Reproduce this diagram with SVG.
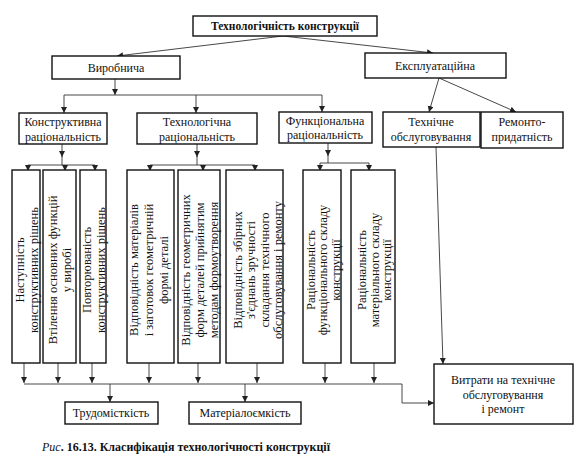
<svg xmlns="http://www.w3.org/2000/svg" width="576" height="470" viewBox="0 0 576 470">
<defs>
<marker id="arr" markerUnits="userSpaceOnUse" markerWidth="7" markerHeight="7" refX="6" refY="3" orient="auto">
<path d="M0,0 L6,3 L0,6 z" fill="#222"/>
</marker>
<style>
.box{fill:#fff;stroke:#111;stroke-width:1.4}
.ln{fill:none;stroke:#333;stroke-width:0.9}
.a{marker-end:url(#arr)}
text{font-family:"Liberation Serif","Times New Roman",serif;fill:#111;font-size:12px;text-anchor:middle}
.v{font-size:12.5px}
.t{font-weight:bold;font-size:11.5px}
.cap{text-anchor:start;font-size:12px;font-weight:bold}
</style>
</defs>
<rect width="576" height="470" fill="#fff"/>

<g id="connectors">
<line class="ln a" x1="283" y1="36" x2="117" y2="56"/>
<line class="ln a" x1="283" y1="36" x2="433" y2="53"/>
<line class="ln a" x1="115" y1="79" x2="115" y2="95"/>
<polyline class="ln" points="64,95 322,95"/>
<line class="ln a" x1="64" y1="95" x2="64" y2="113"/>
<line class="ln a" x1="196" y1="95" x2="196" y2="113"/>
<line class="ln a" x1="322" y1="95" x2="322" y2="112"/>
<line class="ln a" x1="439" y1="78" x2="429" y2="112"/>
<line class="ln a" x1="439" y1="78" x2="516" y2="112"/>

<line class="ln a" x1="62" y1="144" x2="62" y2="157"/>
<line class="ln" x1="62" y1="156" x2="62" y2="165"/>
<polyline class="ln" points="28,165 95,165"/>
<line class="ln a" x1="28" y1="165" x2="28" y2="171"/>
<line class="ln a" x1="65" y1="165" x2="65" y2="171"/>
<line class="ln a" x1="95" y1="165" x2="95" y2="171"/>

<line class="ln a" x1="197" y1="144" x2="197" y2="157"/>
<line class="ln" x1="197" y1="156" x2="197" y2="165"/>
<polyline class="ln" points="150,165 255,165"/>
<line class="ln a" x1="150" y1="165" x2="150" y2="171"/>
<line class="ln a" x1="203" y1="165" x2="203" y2="171"/>
<line class="ln a" x1="255" y1="165" x2="255" y2="171"/>

<line class="ln a" x1="328" y1="143" x2="328" y2="156"/>
<line class="ln" x1="328" y1="155" x2="328" y2="163"/>
<polyline class="ln" points="320,163 369,163"/>
<line class="ln a" x1="320" y1="163" x2="320" y2="171"/>
<line class="ln a" x1="369" y1="163" x2="369" y2="171"/>

<line class="ln a" x1="436" y1="147" x2="443" y2="364"/>

<line class="ln a" x1="24" y1="363" x2="24" y2="383"/>
<line class="ln a" x1="58" y1="363" x2="58" y2="383"/>
<line class="ln a" x1="92" y1="363" x2="92" y2="383"/>
<line class="ln a" x1="149" y1="363" x2="149" y2="383"/>
<line class="ln a" x1="198" y1="363" x2="198" y2="383"/>
<line class="ln a" x1="257" y1="363" x2="257" y2="383"/>
<line class="ln a" x1="325" y1="363" x2="325" y2="383"/>
<line class="ln a" x1="374" y1="363" x2="374" y2="383"/>
<polyline class="ln a" points="24,384 402,384 402,403 434,403"/>
<line class="ln a" x1="110" y1="384" x2="110" y2="402"/>
<line class="ln a" x1="245" y1="384" x2="245" y2="402"/>
</g>

<g id="n-top"><rect class="box" x="193" y="16" width="184" height="20"/><text class="t" x="285" y="30">Технологічність конструкції</text></g>
<g id="n-vyrob"><rect class="box" x="52" y="56" width="128" height="23"/><text x="116" y="72">Виробнича</text></g>
<g id="n-ekspl"><rect class="box" x="365" y="53" width="141" height="25"/><text x="435" y="70">Експлуатаційна</text></g>

<g id="n-konstr"><rect class="box" x="19" y="113" width="88" height="31"/><text x="63" y="126">Конструктивна</text><text x="63" y="141">раціональність</text></g>
<g id="n-tekhn"><rect class="box" x="137" y="113" width="120" height="31"/><text x="197" y="126">Технологічна</text><text x="197" y="141">раціональність</text></g>
<g id="n-funk"><rect class="box" x="279" y="112" width="93" height="31"/><text x="325" y="125">Функціональна</text><text x="325" y="139">раціональність</text></g>
<g id="n-tekhobsl"><rect class="box" x="383" y="112" width="97" height="35"/><text x="431" y="126">Технічне</text><text x="431" y="141">обслуговування</text></g>
<g id="n-remont"><rect class="box" x="481" y="112" width="82" height="36"/><text x="522" y="126">Ремонто-</text><text x="522" y="141">придатність</text></g>

<g id="n-b1"><rect class="box" x="12" y="170" width="28" height="193"/>
<text class="v" transform="translate(0,270) rotate(-90)"><tspan x="0" y="23.5">Наступність</tspan><tspan x="0" y="37.5">конструктивних рішень</tspan></text></g>
<g id="n-b2"><rect class="box" x="43" y="170" width="33" height="193"/>
<text class="v" transform="translate(0,270) rotate(-90)"><tspan x="0" y="57">Втілення основних функцій</tspan><tspan x="0" y="71">у виробі</tspan></text></g>
<g id="n-b3"><rect class="box" x="80" y="170" width="26" height="193"/>
<text class="v" transform="translate(0,270) rotate(-90)"><tspan x="0" y="90.5">Повторюваність</tspan><tspan x="0" y="104.5">конструктивних рішень</tspan></text></g>
<g id="n-b4"><rect class="box" x="127" y="170" width="47" height="193"/>
<text class="v" transform="translate(0,270) rotate(-90)"><tspan x="0" y="138">Відповідність матеріалів</tspan><tspan x="0" y="153">і заготовок геометричній</tspan><tspan x="0" y="168">формі деталі</tspan></text></g>
<g id="n-b5"><rect class="box" x="178" y="170" width="42" height="193"/>
<text class="v" transform="translate(0,270) rotate(-90)"><tspan x="0" y="189.5">Відповідність геометричних</tspan><tspan x="0" y="203.5">форм деталей прийнятим</tspan><tspan x="0" y="217.5">методам формоутворення</tspan></text></g>
<g id="n-b6"><rect class="box" x="226" y="170" width="57" height="193"/>
<text class="v" transform="translate(0,270) rotate(-90)"><tspan x="0" y="241.5">Відповідність збірних</tspan><tspan x="0" y="255">з'єднань зручності</tspan><tspan x="0" y="268.5">складання технічного</tspan><tspan x="0" y="282">обслуговування і ремонту</tspan></text></g>
<g id="n-b7"><rect class="box" x="303" y="170" width="38" height="193"/>
<text class="v" transform="translate(0,270) rotate(-90)"><tspan x="0" y="314.5">Раціональність</tspan><tspan x="0" y="327">функціонального складу</tspan><tspan x="0" y="339.5">конструкції</tspan></text></g>
<g id="n-b8"><rect class="box" x="351" y="170" width="44" height="193"/>
<text class="v" transform="translate(0,270) rotate(-90)"><tspan x="0" y="366">Раціональність</tspan><tspan x="0" y="378.5">матеріального складу</tspan><tspan x="0" y="391">конструкції</tspan></text></g>

<g id="n-trud"><rect class="box" x="65" y="402" width="93" height="22"/><text x="111" y="417">Трудомісткість</text></g>
<g id="n-mater"><rect class="box" x="189" y="402" width="112" height="22"/><text x="245" y="417">Матеріалоємкість</text></g>
<g id="n-vytraty"><rect class="box" x="434" y="364" width="139" height="60"/><text x="503" y="384">Витрати на технічне</text><text x="503" y="399">обслуговування</text><text x="503" y="413">і ремонт</text></g>

<text class="cap" x="42" y="451"><tspan font-style="italic" font-weight="normal">Рис</tspan>. 16.13. Класифікація технологічності конструкції</text>
</svg>
